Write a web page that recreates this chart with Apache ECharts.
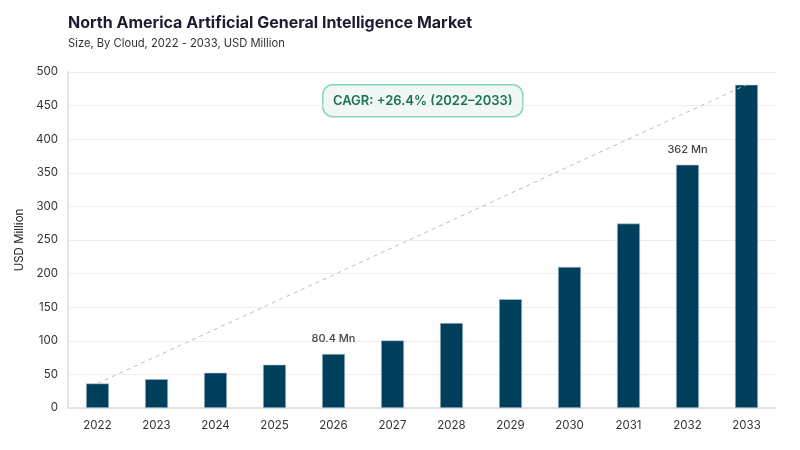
<!DOCTYPE html>
<html>
<head>
<meta charset="utf-8">
<script src="https://cdn.jsdelivr.net/npm/echarts@6/dist/echarts.min.js"></script>
<style>
	html,body{margin:0;padding:0;background:#fff;}
	#chart{width:800px;height:450px;}
</style>
</head>
<body>
<div id="chart"></div>
<script>
var years = ['2022','2023','2024','2025','2026','2027','2028','2029','2030','2031','2032','2033'];
var marketSize = [36.5, 43, 52.5, 64.5, 80.4, 100.5, 126.5, 162, 210, 274.5, 362, 481];
var labelled = { '2026': '80.4 Mn', '2032': '362 Mn' };
var cagrText = 'CAGR: +26.4% (2022–2033)';

// 趋势线：只连首尾两点
var trend = years.map(function (y, i) {
	return (i == 0 || i == years.length - 1) ? marketSize[i] : null;
});

var font = 'Inter, "Noto Sans", sans-serif';
var myChart = echarts.init(document.getElementById('chart'));
var option = {
	backgroundColor: '#fff',
	textStyle: { fontFamily: font },
	title: {
		text: 'North America Artificial General Intelligence Market',
		subtext: 'Size, By Cloud, 2022 - 2033, USD Million',
		left: 63,
		top: 10,
		itemGap: 7,
		textStyle: { fontSize: 16, fontWeight: 'bold', color: '#1c1c2e', fontFamily: font },
		subtextStyle: { fontSize: 11.2, color: '#333', fontFamily: font }
	},
	grid: { left: 68, right: 24, top: 72, bottom: 42 },
	xAxis: {
		type: 'category',
		data: years,
		axisLine: { lineStyle: { color: '#e3e3ea', width: 2 } },
		axisTick: { show: false },
		axisLabel: { color: '#333', fontSize: 11.5, margin: 12 }
	},
	yAxis: {
		type: 'value',
		min: 0,
		max: 500,
		interval: 50,
		name: 'USD Million',
		nameLocation: 'middle',
		nameGap: 42,
		nameTextStyle: { color: '#222', fontSize: 11.5 },
		axisLine: { show: true, lineStyle: { color: '#e3e3ea', width: 2 } },
		axisLabel: { color: '#333', fontSize: 11.5, margin: 10 },
		splitLine: { lineStyle: { color: '#eeeeee' } }
	},
	series: [{
		type: 'bar',
		data: marketSize,
		barWidth: 23,
		itemStyle: { color: '#003f5c', borderColor: '#b9cad4', borderWidth: 0.6 },
		label: {
			show: true,
			position: 'top',
			distance: 10,
			color: '#444',
			fontSize: 11,
			fontWeight: 500,
			formatter: function (p) { return labelled[p.name] || ''; }
		},
		z: 2
	}, {
		type: 'line',
		data: trend,
		connectNulls: true,
		symbol: 'none',
		lineStyle: { color: '#bdbdbd', width: 1, type: [4, 4] },
		silent: true,
		z: 3
	}],
	graphic: [{
		type: 'group',
		left: 322,
		top: 84,
		children: [{
			type: 'rect',
			shape: { x: 0, y: 0, width: 200, height: 32, r: 10 },
			style: { fill: '#f1f6f6', stroke: '#86d8bd', lineWidth: 1.5 }
		}, {
			type: 'text',
			x: 100,
			y: 16,
			style: {
				text: cagrText,
				fill: '#1b7356',
				font: '600 13px ' + font,
				align: 'center',
				verticalAlign: 'middle'
			}
		}]
	}]
};
myChart.setOption(option);
</script>
</body>
</html>
